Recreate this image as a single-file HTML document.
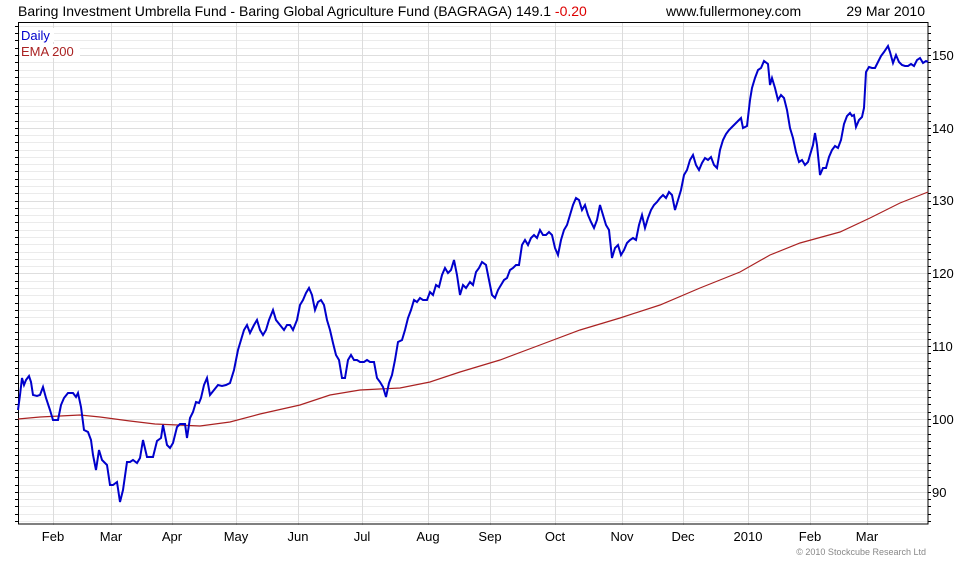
<!DOCTYPE html>
<html><head><meta charset="utf-8"><style>
body{margin:0;background:#fff;width:980px;height:560px;overflow:hidden;font-family:"Liberation Sans",Arial,sans-serif}
</style></head><body>
<svg width="980" height="560" xmlns="http://www.w3.org/2000/svg" font-family="Liberation Sans, Arial, sans-serif">
<rect width="980" height="560" fill="#fff"/>
<g id="hg" stroke="#ebebeb" stroke-width="1"></g>
<g stroke="#dcdcdc" stroke-width="1">
<line x1="53.5" y1="22" x2="53.5" y2="525"/><line x1="111.5" y1="22" x2="111.5" y2="525"/><line x1="172.5" y1="22" x2="172.5" y2="525"/><line x1="236.5" y1="22" x2="236.5" y2="525"/><line x1="298.5" y1="22" x2="298.5" y2="525"/><line x1="362.5" y1="22" x2="362.5" y2="525"/><line x1="428.5" y1="22" x2="428.5" y2="525"/><line x1="490.5" y1="22" x2="490.5" y2="525"/><line x1="555.5" y1="22" x2="555.5" y2="525"/><line x1="622.5" y1="22" x2="622.5" y2="525"/><line x1="683.5" y1="22" x2="683.5" y2="525"/><line x1="748.5" y1="22" x2="748.5" y2="525"/><line x1="810.5" y1="22" x2="810.5" y2="525"/><line x1="867.5" y1="22" x2="867.5" y2="525"/>
</g>
<rect x="18.5" y="22.5" width="909.5" height="501.5" fill="none" stroke="#000"/>
<g id="ticks" stroke="#000"></g>
<g font-size="13" fill="#000" text-anchor="start">
<text x="932" y="60">150</text><text x="932" y="133">140</text><text x="932" y="205">130</text><text x="932" y="278">120</text><text x="932" y="351">110</text><text x="932" y="424">100</text><text x="932" y="497">90</text>
</g>
<g font-size="13" fill="#000" text-anchor="middle">
<text x="53" y="541">Feb</text><text x="111" y="541">Mar</text><text x="172" y="541">Apr</text><text x="236" y="541">May</text><text x="298" y="541">Jun</text><text x="362" y="541">Jul</text><text x="428" y="541">Aug</text><text x="490" y="541">Sep</text><text x="555" y="541">Oct</text><text x="622" y="541">Nov</text><text x="683" y="541">Dec</text><text x="748" y="541">2010</text><text x="810" y="541">Feb</text><text x="867" y="541">Mar</text>
</g>
<text x="926" y="555" font-size="9" fill="#888" text-anchor="end">© 2010 Stockcube Research Ltd</text>
<text x="18" y="16" font-size="14" fill="#000">Baring Investment Umbrella Fund - Baring Global Agriculture Fund (BAGRAGA) 149.1 <tspan fill="#d00">-0.20</tspan></text>
<text x="666" y="16" font-size="14" fill="#000">www.fullermoney.com</text>
<text x="925" y="16" font-size="14" fill="#000" text-anchor="end">29 Mar 2010</text>
<rect x="20" y="28" width="34" height="14" fill="#fff"/><rect x="20" y="44" width="60" height="14" fill="#fff"/>
<text x="21" y="40" font-size="13" fill="#0000cc">Daily</text>
<text x="21" y="56" font-size="13" fill="#aa2222">EMA 200</text>
<polyline fill="none" stroke="#aa2222" stroke-width="1.2" points="18,419 40,417 80,415 100,417 130,421 155,424 200,426 230,422 260,414 300,405 330,395 360,390 400,388 430,382 460,372 500,360 540,345 580,330 620,318 660,305 700,288 740,272 770,255 800,243 840,232 870,218 900,203 928,192"/>
<polyline fill="none" stroke="#0000cc" stroke-width="2" points="18,410 20,395 22,378 24,385 26,380 29,376 31,382 33,395 37,396 40,395 43,387 46,398 50,410 53,420 58,420 61,405 64,398 68,393 73,393 76,397 78,393 81,407 84,430 88,432 91,440 93,455 96,470 99,450 102,460 107,465 110,485 113,485 117,482 120,502 123,490 127,462 130,462 133,460 137,463 140,458 143,440 147,457 150,457 153,457 157,441 161,438 163,425 167,445 170,448 173,443 177,427 180,424 185,424 187,438 190,418 193,412 196,402 199,403 201,398 204,385 207,378 210,395 214,390 218,385 222,386 226,385 230,383 234,370 238,350 241,340 244,330 247,325 250,333 254,325 257,320 260,330 263,335 266,330 269,320 273,310 276,320 280,325 284,330 287,325 290,325 293,330 297,320 300,305 303,300 306,293 309,288 312,295 315,310 318,302 321,300 324,305 327,320 330,330 333,343 336,355 339,360 342,378 345,378 348,360 351,355 354,360 357,360 360,362 364,362 367,360 370,362 374,362 377,378 380,382 383,387 386,397 389,383 392,375 395,360 398,342 402,340 405,330 408,318 411,310 414,300 417,302 420,298 423,300 427,300 430,292 433,295 436,285 439,287 442,275 445,268 448,273 451,270 454,260 457,275 460,295 463,285 466,288 470,282 473,285 476,272 479,268 482,262 486,265 489,280 492,295 495,298 498,290 501,285 504,280 507,278 510,270 513,268 516,265 519,265 522,245 525,240 528,245 531,238 534,235 537,238 540,230 543,235 546,235 549,232 552,235 555,248 558,255 561,240 564,230 567,225 570,215 573,205 576,198 579,200 582,210 585,205 588,215 591,222 594,228 597,220 600,205 603,215 606,225 609,230 612,258 615,248 618,245 621,255 624,250 627,243 630,240 633,238 636,240 639,225 642,215 645,228 648,218 651,210 654,205 657,202 660,198 663,195 666,198 669,192 672,195 675,210 678,200 681,190 684,175 687,170 690,160 693,155 696,165 699,170 702,163 705,158 708,160 711,157 714,165 717,168 720,150 723,140 726,134 729,130 732,127 735,124 738,121 741,118 743,128 747,126 750,100 752,88 755,78 758,70 761,68 764,61 768,64 770,85 772,78 775,88 778,100 781,95 784,98 787,110 790,128 793,138 796,152 799,162 802,160 805,165 808,162 810,155 813,145 815,133 817,145 819,165 820,175 823,168 826,168 829,157 832,150 835,146 838,148 841,140 844,124 847,116 850,113 852,116 854,115 856,127 859,120 862,117 864,108 866,72 869,67 872,68 875,68 878,62 881,56 884,52 888,46 890,52 893,63 896,55 899,62 902,65 905,66 908,66 911,64 914,66 917,60 920,58 923,63 926,61 928,62"/>
</svg>
<script>
var hg=document.getElementById('hg'),tk=document.getElementById('ticks'),ns='http://www.w3.org/2000/svg';
for(var v=86;v<=154;v++){var y=419-(v-100)*7.28;if(y<23||y>523)continue;y=Math.round(y)+0.5;
var l=document.createElementNS(ns,'line');l.setAttribute('x1',19);l.setAttribute('x2',928);l.setAttribute('y1',y);l.setAttribute('y2',y);if(v%10==0)l.setAttribute('stroke','#dedede');hg.appendChild(l);
var a=document.createElementNS(ns,'line');a.setAttribute('x1',928);a.setAttribute('x2',931);a.setAttribute('y1',y);a.setAttribute('y2',y);tk.appendChild(a);
var b=document.createElementNS(ns,'line');b.setAttribute('x1',15);b.setAttribute('x2',18);b.setAttribute('y1',y);b.setAttribute('y2',y);tk.appendChild(b);}
</script>
</body></html>
